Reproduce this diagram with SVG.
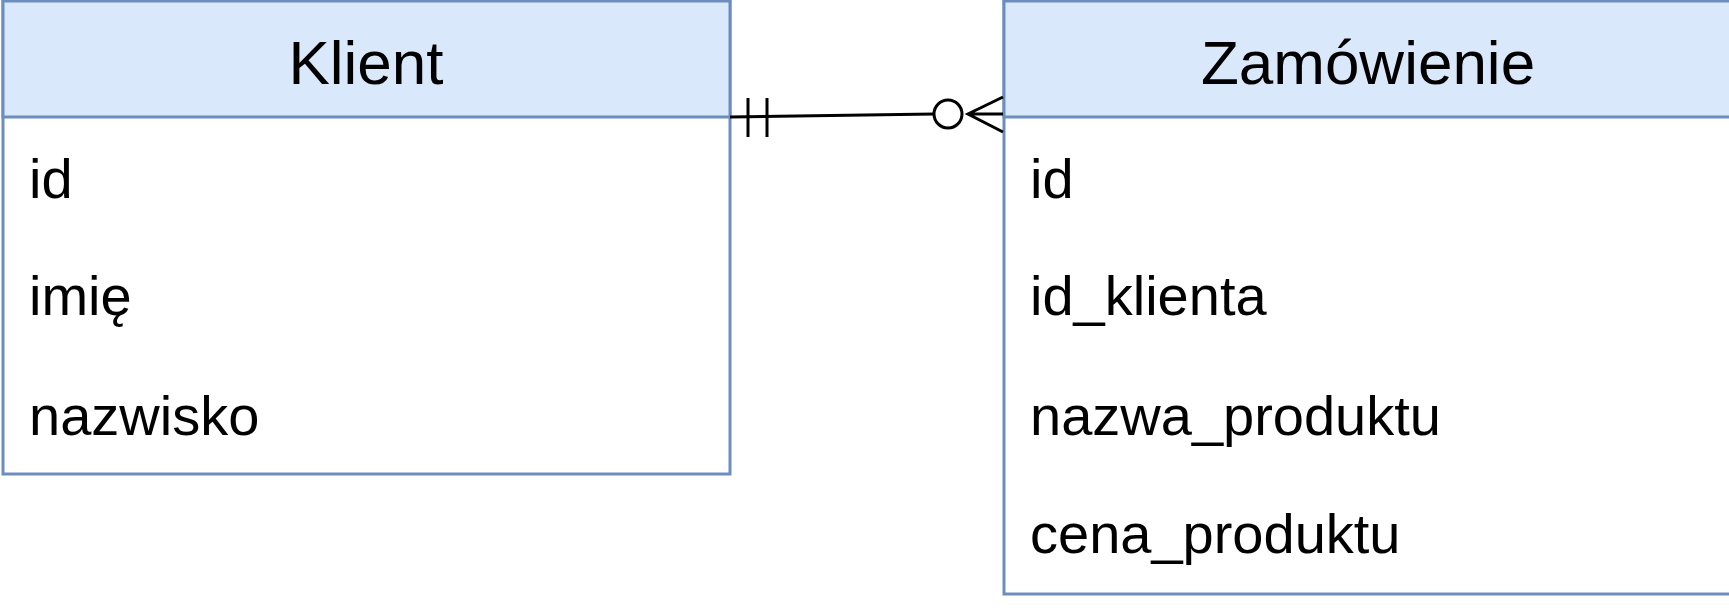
<svg xmlns="http://www.w3.org/2000/svg" width="1729" height="608" viewBox="0 0 1729 608">
<style>
.box{fill:#ffffff;stroke:#6c8ebf;stroke-width:3}
.hdr{fill:#dae8fc;stroke:#6c8ebf;stroke-width:3}
.title{font-family:"Liberation Sans",Arial,sans-serif;font-size:62px;fill:#000;text-anchor:middle}
.field{font-family:"Liberation Sans",Arial,sans-serif;font-size:56px;fill:#000}
.conn{fill:none;stroke:#000;stroke-width:3}
</style>
<rect width="1729" height="608" fill="#ffffff"/>
<g id="klient">
<rect class="box" x="3" y="1" width="727" height="473"/>
<rect class="hdr" x="3" y="1" width="727" height="116"/>
<text class="title" x="366" y="84">Klient</text>
<text class="field" x="29" y="198">id</text>
<text class="field" x="29" y="315">imię</text>
<text class="field" x="29" y="435">nazwisko</text>
</g>
<g id="zamowienie">
<rect class="box" x="1004" y="1" width="730" height="593"/>
<rect class="hdr" x="1004" y="1" width="730" height="116"/>
<text class="title" x="1368" y="84">Zamówienie</text>
<text class="field" x="1030" y="198">id</text>
<text class="field" x="1030" y="315">id_klienta</text>
<text class="field" x="1030" y="435">nazwa_produktu</text>
<text class="field" x="1030" y="553">cena_produktu</text>
</g>
<g id="connectors">
<path class="conn" d="M730,117 L934,114"/>
<path class="conn" d="M748,98 V137 M767,98 V137"/>
<circle class="conn" cx="948" cy="114" r="14" fill="#ffffff"/>
<path class="conn" d="M1003,97 L968,114 L1003,132 M968,114 H1003"/>
</g>
</svg>
